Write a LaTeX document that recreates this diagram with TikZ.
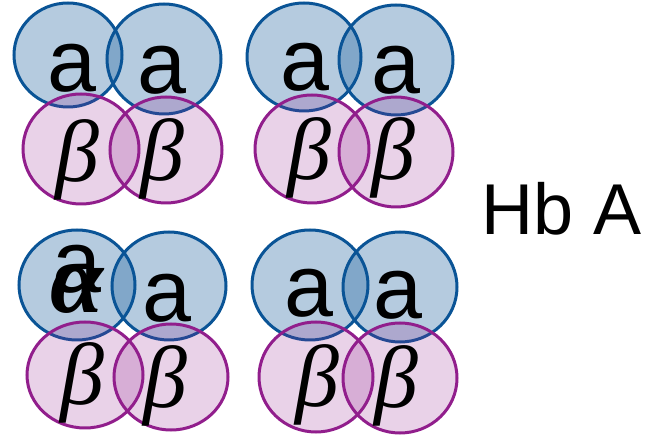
\documentclass[tikz,border=0pt]{standalone}
\usepackage{fontspec}
\setmainfont{Liberation Sans}
\newfontfamily\grkfont{Liberation Serif}
\definecolor{bstroke}{RGB}{10,84,150}
\definecolor{pstroke}{RGB}{145,30,140}
\tikzset{
  bluec/.style={draw=bstroke, line width=3pt, fill=bstroke, fill opacity=0.3},
  pinkc/.style={draw=pstroke, line width=3pt, fill=pstroke, fill opacity=0.2},
  alab/.style={inner sep=0pt, font=\fontsize{88}{88}\selectfont},
  blab/.style={inner sep=0pt, font=\grkfont\itshape\fontsize{88}{88}\selectfont},
}
\begin{document}
\begin{tikzpicture}[x=1pt,y=-1pt]
\useasboundingbox (0,0) rectangle (651,435);
% top-left group
\path[bluec] (68,55) ellipse [x radius=54, y radius=52];
\path[bluec] (164,59) ellipse [x radius=57, y radius=55];
\path[pinkc] (81,149) ellipse [x radius=58, y radius=55];
\path[pinkc] (166,150) ellipse [x radius=56, y radius=53];
% top-right group
\path[bluec] (304,57) ellipse [x radius=57, y radius=54];
\path[bluec] (396,60) ellipse [x radius=57, y radius=55];
\path[pinkc] (312,149) ellipse [x radius=57, y radius=54];
\path[pinkc] (396,152) ellipse [x radius=57, y radius=55];
% bottom-left group
\path[bluec] (77,285) ellipse [x radius=58, y radius=55];
\path[bluec] (169,286) ellipse [x radius=57, y radius=54];
\path[pinkc] (85,375) ellipse [x radius=58, y radius=53];
\path[pinkc] (171,377) ellipse [x radius=57, y radius=53];
% bottom-right group
\path[bluec] (310,285) ellipse [x radius=58, y radius=55];
\path[bluec] (400,287) ellipse [x radius=57, y radius=55];
\path[pinkc] (316,377) ellipse [x radius=57, y radius=55];
\path[pinkc] (400,378) ellipse [x radius=57, y radius=55];
% labels
\node[alab] (tla1) at (72,68) {a};
\node[alab] (tla2) at (162,70) {a};
\node[blab] (tlb1) at (77,160) {β};
\node[blab] (tlb2) at (162,159) {β};
\node[alab] (tra1) at (305,67) {a};
\node[alab] (tra2) at (396,70) {a};
\node[blab] (trb1) at (309,158) {β};
\node[blab] (trb2) at (393,158) {β};
\node[alab] (bla1) at (77,269) {a};
\node[inner sep=0pt, font=\grkfont\bfseries\itshape\fontsize{96}{96}\selectfont] (blal) at (77,290) {α};
\node[alab] (bla2) at (167,298) {a};
\node[blab] (blb1) at (82,383) {β};
\node[blab] (blb2) at (165,386) {β};
\node[alab] (bra1) at (309,293) {a};
\node[alab] (bra2) at (398,295) {a};
\node[blab] (brb1) at (317,385) {β};
\node[blab] (brb2) at (396,386) {β};
\node[inner sep=0pt, font=\fontsize{72}{72}\selectfont] (hba) at (562,209) {Hb A};
\end{tikzpicture}
\end{document}
